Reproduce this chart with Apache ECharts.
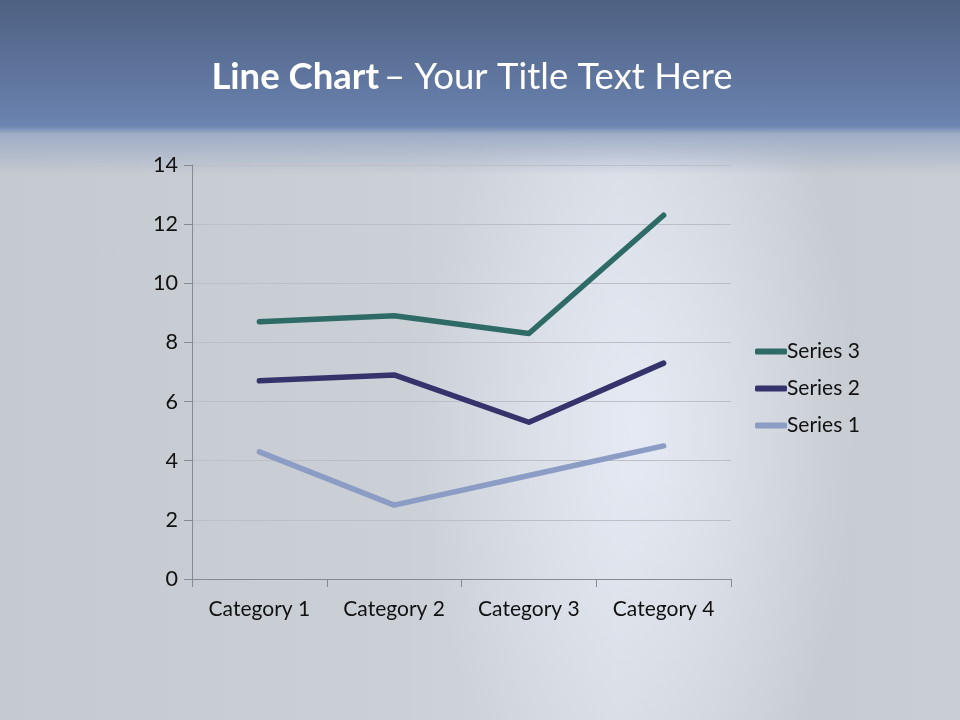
<!DOCTYPE html>
<html>
<head>
<meta charset="utf-8">
<script src="https://cdn.jsdelivr.net/npm/echarts@6/dist/echarts.min.js"></script>
<style>
html,body{margin:0;padding:0;width:960px;height:720px;overflow:hidden;}
body{background:#c9cdd4;}
#bg{position:absolute;left:0;top:0;width:960px;height:720px;
background:
 linear-gradient(to bottom, #4f6182 0px, #6279a3 90px, #6b84b0 126px, #9fadc6 134px, rgba(200,205,213,0) 175px),
 radial-gradient(ellipse 220px 420px at 640px 430px, rgba(236,241,251,0.7), rgba(236,241,251,0) 100%),
 linear-gradient(to right, #c5c9d0 0px, #cbcfd6 400px, #d4d9e2 620px, #c7cbd2 820px, #c9cdd4 960px);}
#main{position:absolute;left:0;top:0;width:960px;height:720px;}
</style>
</head>
<body>
<div id="bg"></div>
<div id="main"></div>
<script>
var categories = ['Category 1', 'Category 2', 'Category 3', 'Category 4'];
var series1 = [4.3, 2.5, 3.5, 4.5];
var series2 = [2.4, 4.4, 1.8, 2.8];
var series3 = [2, 2, 3, 5];
var seriesNames = ['Series 1', 'Series 2', 'Series 3'];
var seriesColors = ['#8b9dc4', '#35336b', '#2e6b66'];
var yTicks = {min: 0, max: 14, interval: 2};

var chart = echarts.init(document.getElementById('main'), null, {renderer: 'canvas'});
var font = 'Lato, "Open Sans", sans-serif';
var dataSets = [series1, series2, series3];
var seriesList = dataSets.map(function (d, i) {
  return {
    name: seriesNames[i],
    type: 'line',
    stack: 'total',
    data: d,
    showSymbol: false,
    symbol: 'none',
    lineStyle: {width: 5.5, color: seriesColors[i], cap: 'round', join: 'round'},
    itemStyle: {color: seriesColors[i]},
    z: 2 + i
  };
});

chart.setOption({
  backgroundColor: 'transparent',
  animation: false,
  title: {
    text: '{b|Line Chart} {r|– Your Title Text Here}',
    left: 467, top: 54, textAlign: 'center',
    textStyle: {
      rich: {
        b: {fontFamily: font, fontWeight: 'bold', fontSize: 36.5, color: '#ffffff'},
        r: {fontFamily: font, fontWeight: 'normal', fontSize: 36.5, color: '#ffffff'}
      }
    }
  },
  grid: {left: 192, right: 229, top: 165, bottom: 141, containLabel: false},
  legend: {
    orient: 'vertical',
    left: 750, top: 336,
    data: ['Series 3', 'Series 2', 'Series 1'],
    icon: 'roundRect',
    itemWidth: 32, itemHeight: 6,
    itemGap: 16,
    textStyle: {fontFamily: font, fontSize: 21, color: '#111', padding: [0, 0, 0, -5]}
  },
  xAxis: {
    type: 'category',
    data: categories,
    boundaryGap: true,
    axisLine: {lineStyle: {color: '#868a92', width: 1}},
    axisTick: {show: true, interval: 0, length: 8, inside: false, lineStyle: {color: '#868a92'}},
    axisLabel: {interval: 0, hideOverlap: false, fontFamily: font, fontSize: 21, color: '#111', margin: 20}
  },
  yAxis: {
    type: 'value',
    min: yTicks.min, max: yTicks.max, interval: yTicks.interval,
    axisLine: {show: true, lineStyle: {color: '#868a92', width: 1}},
    axisTick: {show: true, length: 8, lineStyle: {color: '#868a92'}},
    axisLabel: {fontFamily: font, fontSize: 21.5, color: '#111', margin: 14},
    splitLine: {lineStyle: {color: '#bcbfc5', width: 1}}
  },
  series: seriesList
});
</script>
</body>
</html>
